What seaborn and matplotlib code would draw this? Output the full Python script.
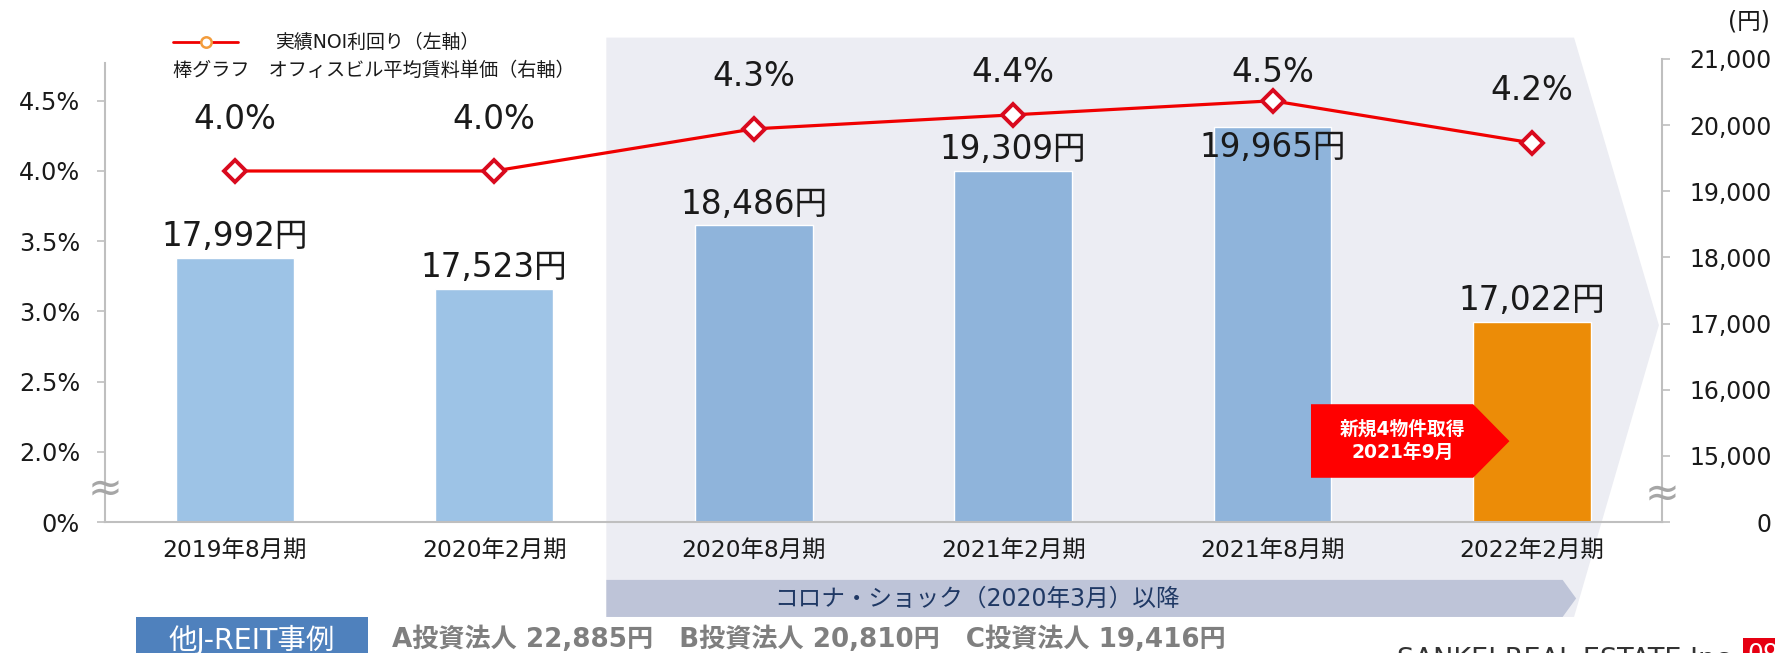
import numpy as np
import matplotlib
matplotlib.use("Agg")
import matplotlib.pyplot as plt
import matplotlib.transforms as mtransforms
from matplotlib.patches import Polygon, Rectangle
import seaborn as sns

sns.set_theme(style="white")
plt.rcParams['font.family'] = ['DejaVu Sans', 'Noto Sans CJK JP']

# ---- data ----
periods = ["2019年8月期", "2020年2月期", "2020年8月期", "2021年2月期", "2021年8月期", "2022年2月期"]
rent = [17992, 17523, 18486, 19309, 19965, 17022]        # 円 (right axis)
noi_yield = [4.0, 4.0, 4.3, 4.4, 4.5, 4.2]               # % (left axis)
bar_colors = ["#9DC3E6", "#9DC3E6", "#8FB4DB", "#8FB4DB", "#8FB4DB", "#EC8C07"]
left_ticks = [1.5, 2.0, 2.5, 3.0, 3.5, 4.0, 4.5]
left_labels = ["0%", "2.0%", "2.5%", "3.0%", "3.5%", "4.0%", "4.5%"]
right_ticks = [14000, 15000, 16000, 17000, 18000, 19000, 20000, 21000]
right_labels = ["0", "15,000", "16,000", "17,000", "18,000", "19,000", "20,000", "21,000"]
other_reits = "A投資法人 22,885円　B投資法人 20,810円　C投資法人 19,416円"

GRAY = "#BFBFBF"
RED = "#F00000"
W, H = 1775, 653

fig = plt.figure(figsize=(17.75, 6.53), dpi=100)
ax = fig.add_axes([0.0592, 0.2006, 0.877, 0.7092])
ax2 = ax.twinx()
ax.set_zorder(2)
ax2.set_zorder(1)
ax.patch.set_visible(False)
ax2.patch.set_visible(False)

x = np.arange(len(periods))

# ---- shaded "after corona" chevron (behind everything) ----
bt = mtransforms.blended_transform_factory(ax2.transData, ax2.transAxes)
chev = Polygon([(1.432, 1.046), (5.162, 1.046), (5.489, 0.425), (5.162, -0.205), (1.432, -0.205)],
               closed=True, transform=bt, facecolor="#ECEDF3", edgecolor="none",
               clip_on=False, zorder=0)
ax2.add_patch(chev)
band = Polygon([(1.432, -0.125), (5.118, -0.125), (5.170, -0.165), (5.118, -0.205), (1.432, -0.205)],
               closed=True, transform=bt, facecolor="#BEC4D8", edgecolor="none",
               clip_on=False, zorder=0.5)
ax2.add_patch(band)
ax2.text(2.86, -0.165, "コロナ・ショック（2020年3月）以降", transform=bt, ha="center", va="center",
         fontsize=17, color="#1F3864", zorder=1)

# ---- bars (right axis) ----
sns.barplot(x=x, y=rent, hue=x, palette=bar_colors, legend=False, width=0.454,
            saturation=1, ax=ax2, native_scale=True, zorder=2)
ax2.set_ylim(14000, 21000)
for i, v in enumerate(rent):
    ax2.text(i, min(v + 320, 19660), f"{v:,}円", ha="center", va="center",
             fontsize=23.5, color="#1A1A1A", zorder=3)

# ---- NOI yield line (left axis) ----
sns.lineplot(x=x, y=noi_yield, ax=ax, color=RED, linewidth=2.3, marker="D",
             markersize=11, markerfacecolor="white", markeredgecolor="#D90A1E",
             markeredgewidth=2.8, sort=False, zorder=4)
for i, v in enumerate(noi_yield):
    ax.text(i, min(v + 0.37, 4.70), f"{v:.1f}%", ha="center", va="center",
            fontsize=23.5, color="#1A1A1A")

ax.set_ylim(1.5, 1.5 + 409 / 124)
ax.set_xlim(-0.5, 5.5)

# ---- axes styling ----
ax.set_xticks(x)
ax.set_xticklabels(periods, fontsize=16.8)
ax.tick_params(axis="x", length=0, pad=12, colors="#1A1A1A")
ax.set_yticks(left_ticks)
ax.set_yticklabels(left_labels, fontsize=17.3)
ax.tick_params(axis="y", length=6, width=1.2, color=GRAY, pad=12, labelcolor="#1A1A1A")
ax2.set_yticks(right_ticks)
ax2.set_yticklabels(right_labels, fontsize=17, ha="right")
ax2.tick_params(axis="y", length=6, width=1.2, color=GRAY, pad=73, labelcolor="#1A1A1A")
ax.set_xlabel("")
ax.set_ylabel("")
ax2.set_ylabel("")
ax.grid(False)
ax2.grid(False)

for s in ["top", "right"]:
    ax.spines[s].set_visible(False)
for s in ["top", "left", "bottom"]:
    ax2.spines[s].set_visible(False)
for sp in [ax.spines["left"], ax.spines["bottom"], ax2.spines["right"]]:
    sp.set_color(GRAY)
    sp.set_linewidth(1.5)
ax.spines["left"].set_bounds(1.5, 4.77)

# axis break marks
ax.text(-0.5, 1.73, "≈", ha="center", va="center", fontsize=30, color="#A6A6A6", clip_on=False)
ax2.text(5.5, 14411, "≈", ha="center", va="center", fontsize=30, color="#A6A6A6", clip_on=False)

# ---- callout arrow ----
callout = Polygon([(4.148, 2.339), (4.773, 2.339), (4.913, 2.076), (4.773, 1.815), (4.148, 1.815)],
                  closed=True, facecolor="#FF0000", edgecolor="none", zorder=5)
ax.add_patch(callout)
ax.text(4.50, 2.077, "新規4物件取得\n2021年9月", ha="center", va="center", fontsize=13.5,
        color="white", fontweight="bold", linespacing=1.3, zorder=6)

# ---- legend (manual) ----
fig.add_artist(plt.Line2D([173 / W, 238 / W], [1 - 42 / H, 1 - 42 / H], color=RED, lw=2))
fig.add_artist(plt.Line2D([206 / W], [1 - 42 / H], marker="o", markersize=7.5,
                          markerfacecolor="white", markeredgecolor="#F39C3C", markeredgewidth=1.8))
fig.text(275 / W, 1 - 42 / H, "実績NOI利回り（左軸）", fontsize=13.6, va="center", color="#1A1A1A")
fig.text(173 / W, 1 - 70 / H, "棒グラフ　オフィスビル平均賃料単価（右軸）", fontsize=13.8,
         va="center", color="#1A1A1A")
fig.text(1749 / W, 1 - 21 / H, "(円)", fontsize=17, ha="center", va="center", color="#1A1A1A")

# ---- footer ----
fig.add_artist(Rectangle((136 / W, 0), 232 / W, 36 / H, transform=fig.transFigure,
                         facecolor="#4F81BD", edgecolor="none"))
fig.text(252 / W, 13 / H, "他J-REIT事例", fontsize=20.5, ha="center", va="center", color="white")
fig.text(392 / W, 13 / H, other_reits, fontsize=18.8, fontweight="bold", ha="left",
         va="center", color="#7F7F7F")
fig.text(1397 / W, 6 / H, "SANKEI REAL ESTATE Inc.", fontsize=19.5, ha="left", va="top",
         color="#333333")
fig.add_artist(Rectangle((1743 / W, 0), 32 / W, 15 / H, transform=fig.transFigure,
                         facecolor="#E60012", edgecolor="none"))
fig.text(1747 / W, 11 / H, "09", fontsize=18, ha="left", va="top", color="white")

fig.savefig("out.png", dpi=100, facecolor="white")
